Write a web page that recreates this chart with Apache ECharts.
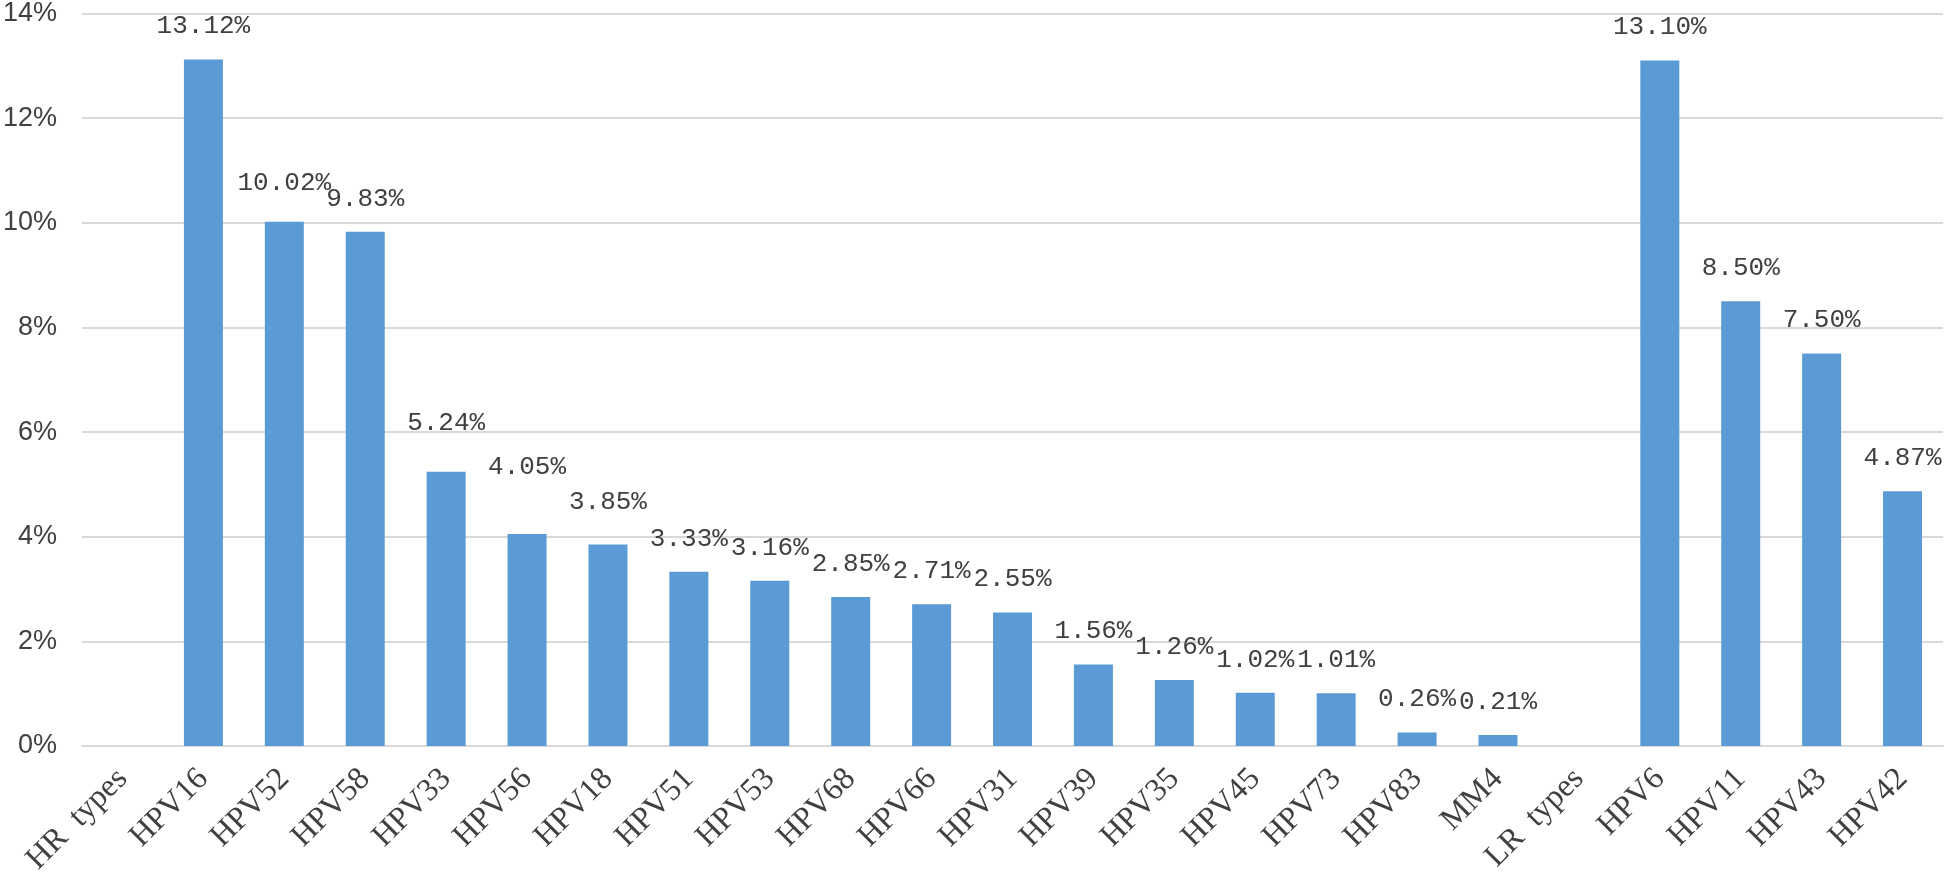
<!DOCTYPE html>
<html>
<head>
<meta charset="utf-8">
<script src="https://cdn.jsdelivr.net/npm/echarts@6/dist/echarts.min.js"></script>
<style>
html,body{margin:0;padding:0;background:#fff;}
#chart{width:1946px;height:880px;}
</style>
</head>
<body>
<div id="chart"></div>
<script>
const categories = ["HR types","HPV16","HPV52","HPV58","HPV33","HPV56","HPV18","HPV51","HPV53","HPV68","HPV66","HPV31","HPV39","HPV35","HPV45","HPV73","HPV83","MM4","LR types","HPV6","HPV11","HPV43","HPV42"];
const prevalence = [null,13.12,10.02,9.83,5.24,4.05,3.85,3.33,3.16,2.85,2.71,2.55,1.56,1.26,1.02,1.01,0.26,0.21,null,13.10,8.50,7.50,4.87];
const yTicks = { min: 0, max: 14, interval: 2 };

// extra lift (px) of a few data labels, as placed in the original
const labelLift = { HPV52: 6, HPV33: 16, HPV56: 34, HPV18: 9 };

const chart = echarts.init(document.getElementById('chart'), null, {renderer:'canvas'});
const baseDist = 20;
chart.setOption({
  animation: false,
  backgroundColor: '#ffffff',
  grid: { left: 73, right: 3, top: 13, bottom: 134, containLabel: false },
  xAxis: {
    type: 'category',
    data: categories,
    axisLine: { show: true, lineStyle: { color: '#d9d9d9', width: 2 } },
    axisTick: { show: false },
    axisLabel: {
      rotate: 45, interval: 0, margin: 28,
      fontFamily: 'Liberation Serif', fontSize: 32, color: '#404040',
      formatter: v => v.replace(' ', '\u2002')
    }
  },
  yAxis: {
    type: 'value',
    min: yTicks.min, max: yTicks.max, interval: yTicks.interval,
    axisLine: { show: false },
    axisTick: { show: false },
    splitLine: { lineStyle: { color: '#d9d9d9', width: 2 } },
    axisLabel: {
      formatter: '{value}%', margin: 25,
      fontFamily: "'Liberation Sans Narrow', 'Liberation Sans'", fontSize: 27, color: '#404040'
    }
  },
  series: [{
    type: 'bar',
    data: prevalence.map((v, i) => ({
      value: v,
      label: { distance: baseDist + (labelLift[categories[i]] || 0) }
    })),
    barWidth: 39,
    itemStyle: { color: '#5b9bd5' },
    label: {
      show: true, position: 'top', distance: baseDist,
      fontFamily: 'Liberation Mono', fontSize: 26, color: '#404040',
      formatter: p => p.value == null ? '' : p.value.toFixed(2) + '%'
    }
  }]
});
</script>
</body>
</html>
